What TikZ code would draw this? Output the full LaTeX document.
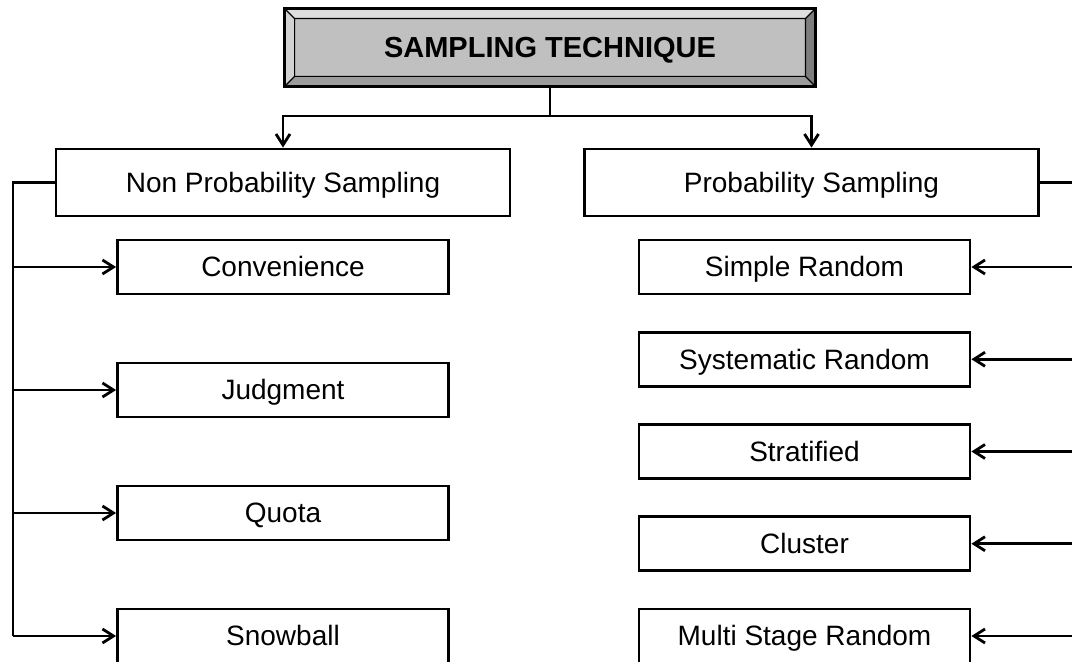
\documentclass[tikz,border=0pt]{standalone}
\usepackage{fontspec}
\setmainfont{Liberation Sans}
\usetikzlibrary{arrows.meta}
\definecolor{bevface}{HTML}{C0C0C0}
\definecolor{bevlight}{HTML}{DEDEDE}
\definecolor{bevleft}{HTML}{D2D2D2}
\definecolor{bevdark}{HTML}{7E7E7E}
\definecolor{bevmid}{HTML}{9C9C9C}

\begin{document}
\begin{tikzpicture}[x=0.5pt, y=-0.5pt, line width=1.4pt,
    main/.style = {draw, rectangle, inner sep=0pt, minimum width=165.5pt, minimum height=27pt, text height=10pt, text depth=0pt, font=\fontsize{14}{16}\selectfont},
    group/.style = {main, minimum width=227pt, minimum height=33.5pt},
    head/.style = {main, fill=bevface, minimum width=264pt, minimum height=37.5pt, font=\fontsize{14.5}{16}\selectfont\bfseries},
    link/.style = {-{Straight Barb[length=5.5pt,width=7pt]}}]
      \useasboundingbox (0,0) rectangle (1072,662);

      \node[head] (0) at (550,47.5) {SAMPLING TECHNIQUE};
      \node[group] (1) at (283,182.5) {Non Probability Sampling};
      \node[group] (2) at (811.5,182.5) {Probability Sampling};

      \node[main, node distance=42.25pt] (3) [below of=1] {Convenience};
      \node[main, node distance=61.5pt] (4) [below of=3] {Judgment};
      \node[main, node distance=61.5pt] (5) [below of=4] {Quota};
      \node[main, node distance=61.5pt] (6) [below of=5] {Snowball};

      \node[main, node distance=42.25pt, xshift=-3.5pt] (7) [below of=2] {Simple Random};
      \node[main, node distance=46.125pt] (8) [below of=7] {Systematic Random};
      \node[main, node distance=46.125pt] (9) [below of=8] {Stratified};
      \node[main, node distance=46.125pt] (10) [below of=9] {Cluster};
      \node[main, node distance=46.125pt] (11) [below of=10] {Multi Stage Random};

      % bevel of the title box
      \coordinate (inw) at ([shift={(5pt,-5pt)}]0.north west);
      \coordinate (ine) at ([shift={(-5pt,-5pt)}]0.north east);
      \coordinate (ise) at ([shift={(-5pt,5pt)}]0.south east);
      \coordinate (isw) at ([shift={(5pt,5pt)}]0.south west);
      \fill[bevlight] (0.north west) -- (0.north east) -- (ine) -- (inw) -- cycle;
      \fill[bevleft] (0.north west) -- (inw) -- (isw) -- (0.south west) -- cycle;
      \fill[bevdark] (0.north east) -- (0.south east) -- (ise) -- (ine) -- cycle;
      \fill[bevmid] (0.south west) -- (isw) -- (ise) -- (0.south east) -- cycle;
      \draw[line width=0.6pt] (inw) rectangle (ise)
        (0.north west) -- (inw) (0.north east) -- (ine)
        (0.south east) -- (ise) (0.south west) -- (isw);
      \draw (0.north west) rectangle (0.south east);

      \coordinate (j) at (550,116);
      \coordinate (lb) at (13,182.5);
      \coordinate (rb) at (1074,182.5);

      \draw[link] (0.south) -- (j) -| (1.north);
      \draw[link] (j) -| (2.north);

      \draw (1.west) -- (lb) -- (lb |- 6.west);
      \path[link]
      (lb |- 3.west) edge (3.west)
      (lb |- 4.west) edge (4.west)
      (lb |- 5.west) edge (5.west)
      (lb |- 6.west) edge (6.west);

      \draw (2.east) -- (rb) -- (rb |- 11.east);
      \path[link]
      (rb |- 7.east) edge (7.east)
      (rb |- 8.east) edge (8.east)
      (rb |- 9.east) edge (9.east)
      (rb |- 10.east) edge (10.east)
      (rb |- 11.east) edge (11.east);
    \end{tikzpicture}
\end{document}
